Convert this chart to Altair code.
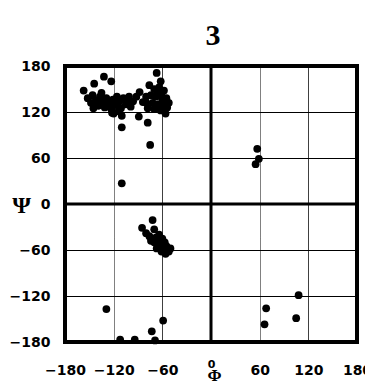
import altair as alt
import pandas as pd

# Ramachandran plot values (phi, psi)
phi = [
    -157, -144, -132, -123,
    -152, -148, -146, -142, -139, -137, -134, -131, -129, -126, -123, -121, -118,
    -116, -113, -111, -108, -105, -101, -99, -96, -145, -135, -120, -114,
    -140, -128, -115, -103,
    -88, -92, -84, -80,
    -67, -62, -76, -70, -64, -58, -74, -68, -61, -55, -80, -72, -65, -58, -52,
    -70, -62, -56, -78, -66, -60, -54,
    -110, -89, -78, -110, -75, -122, -110,
    57, 59, 55,
    -72, -70, -85, -80, -76, -72, -68, -64, -60, -66, -62, -58, -55, -52, -56,
    -60, -70, -74, -64, -50, -67, -57, -53, -61, -63,
    -129, -112, -94, -73, -69, -59,
    68, 66, 105, 108,
]
psi = [
    148, 157, 166, 160,
    138, 132, 142, 135, 128, 140, 133, 126, 138, 131, 124, 136, 129,
    140, 134, 125, 138, 130, 140, 127, 134, 125, 145, 118, 121,
    130, 132, 131, 136,
    146, 140, 133, 140,
    171, 160, 155, 150, 152, 148, 142, 140, 141, 138, 132, 132, 130, 128, 132,
    124, 122, 118, 125, 146, 136, 126,
    115, 114, 106, 100, 77, 119, 27,
    72, 59, 52,
    -21, -33, -31, -38, -42, -46, -44, -48, -52, -52, -57, -60, -55, -62, -65,
    -45, -50, -48, -40, -58, -58, -50, -58, -62, -54,
    -137, -177, -177, -166, -178, -152,
    -136, -157, -149, -119,
]

tick_values = [-180, -120, -60, 0, 60, 120, 180]
chart_title = ["3"]
x_title = "Φ"
y_title = "Ψ"

df = pd.DataFrame({"phi": phi, "psi": psi})
zero_df = pd.DataFrame({"v": [0]})
title_df = pd.DataFrame({"t": chart_title})

scale = alt.Scale(domain=[-180, 180], nice=False, zero=False, padding=0)

x_axis = alt.Axis(
    values=tick_values, title=x_title, grid=True, gridColor="black", gridWidth=1,
    gridOpacity=1,
    gridDash={"condition": {"test": "datum.value == -120 || datum.value == 60", "value": [1, 1]}, "value": [1, 0]},
    ticks=False, tickSize=0, domain=False,
    labelFont="DejaVu Sans", labelFontWeight="bold",
    labelFontSize={"condition": {"test": "datum.value == 0", "value": 11}, "value": 14},
    labelBaseline={"condition": {"test": "datum.value == 0", "value": "alphabetic"}, "value": "middle"},
    labelPadding={"condition": {"test": "datum.value == 0", "value": 25}, "value": 28},
    labelColor="black", labelFlush=False,
    titleFont="Liberation Serif", titleFontWeight="bold", titleFontSize=17, titleColor="black",
    titleX=149, titleY=33, titleBaseline="middle", titleAlign="center",
)
y_axis = alt.Axis(
    values=tick_values, title=y_title, grid=True, gridColor="black", gridWidth=1, gridOpacity=1,
    ticks=False, tickSize=0, domain=False,
    labelFont="DejaVu Sans", labelFontWeight="bold", labelFontSize=14, labelColor="black",
    labelPadding=15, labelFlush=False,
    titleFont="Liberation Serif", titleFontWeight="bold", titleFontSize=24, titleColor="black",
    titleAngle=0, titleX=-44, titleY=139, titleBaseline="middle", titleAlign="center",
)

points = alt.Chart(df).mark_circle(size=60, color="black", opacity=1).encode(
    x=alt.X("phi:Q", scale=scale, axis=x_axis),
    y=alt.Y("psi:Q", scale=scale, axis=y_axis),
)
vline = alt.Chart(zero_df).mark_rule(color="black", strokeWidth=3).encode(x=alt.X("v:Q", scale=scale))
hline = alt.Chart(zero_df).mark_rule(color="black", strokeWidth=3).encode(y=alt.Y("v:Q", scale=scale))
frame = alt.Chart(zero_df).mark_rect(fill=None, stroke="black", strokeWidth=4).encode(
    x=alt.value(0), x2=alt.value(292), y=alt.value(0), y2=alt.value(276)
)
title_text = alt.Chart(title_df).mark_text(
    font="Liberation Serif", fontWeight="bold", fontSize=30, color="black",
    align="center", baseline="alphabetic"
).encode(text="t:N", x=alt.value(148), y=alt.value(-21))

chart = alt.layer(vline, hline, frame, points, title_text).properties(
    width=292, height=276,
    autosize=alt.AutoSizeParams(type="none"),
    padding={"left": 57, "top": 58, "right": 8, "bottom": 41},
).configure_view(stroke=None).configure(background="white")

chart.save("out.html", embed_options={"renderer": "svg", "actions": False})
